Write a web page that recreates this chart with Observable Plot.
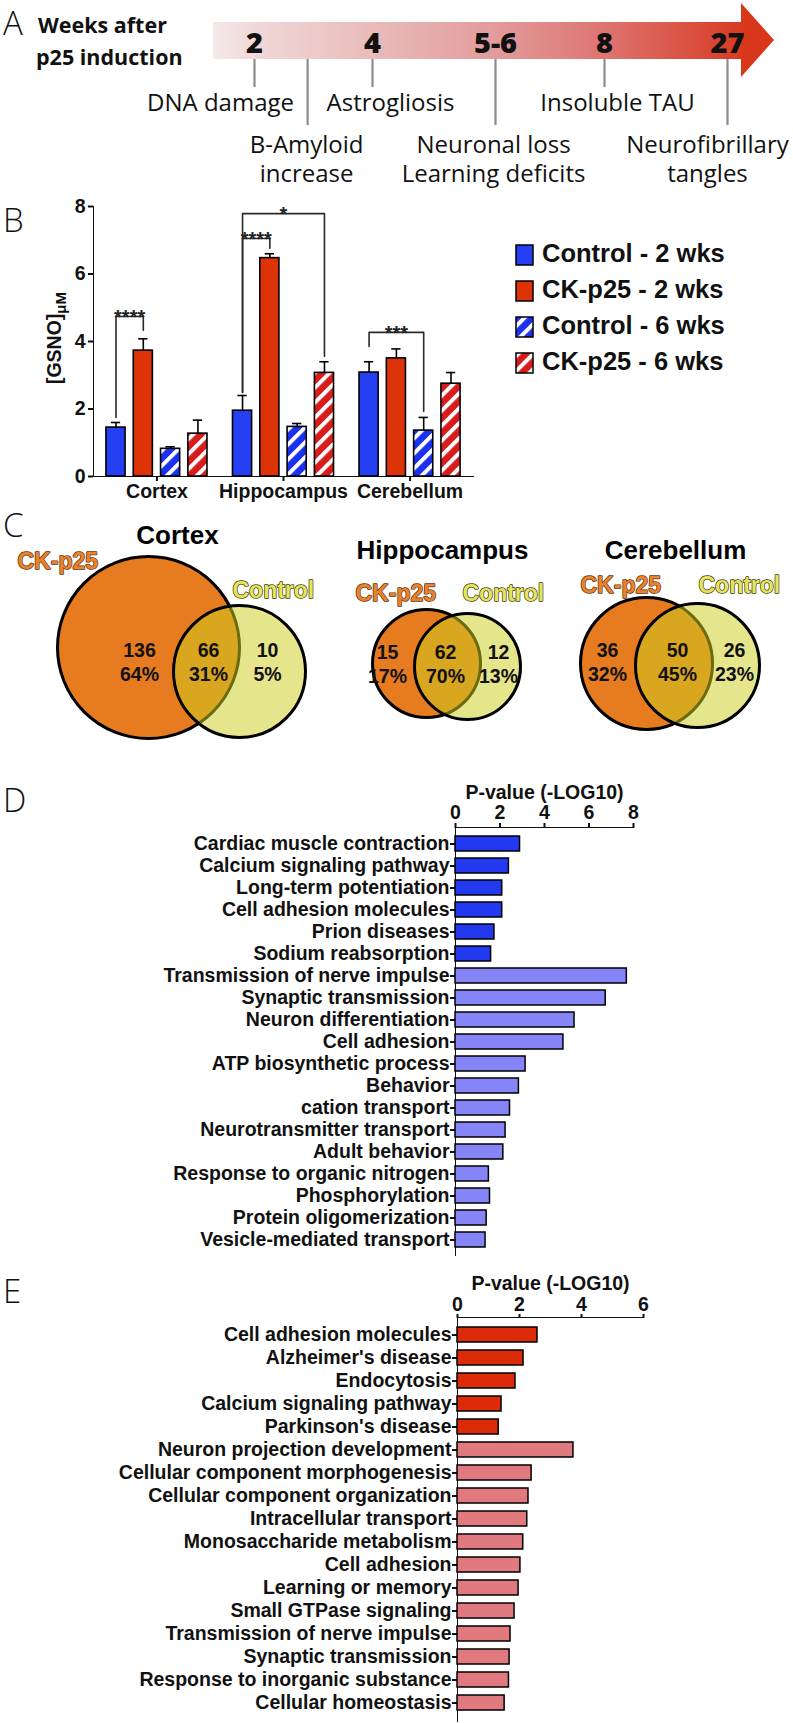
<!DOCTYPE html>
<html><head><meta charset="utf-8">
<script src="https://cdn.jsdelivr.net/npm/d3@7"></script>
<script src="https://cdn.jsdelivr.net/npm/@observablehq/plot@0.6"></script>
<style>
html,body{margin:0;padding:0;background:#fff;}
#root{position:relative;width:793px;height:1723px;overflow:hidden;background:#fff;}
.panel{position:absolute;left:0;}
#root svg{display:block;overflow:visible;background:transparent !important;max-width:none !important;}
g[aria-label^="x-axis"] path, g[aria-label^="x-axis"] line, g[aria-label^="y-axis"] path, g[aria-label^="y-axis"] line{stroke-width:2px;}
</style></head>
<body>
<svg width="0" height="0" style="position:absolute">
 <defs>
  <linearGradient id="arrowGrad" x1="0" x2="1" y1="0" y2="0">
   <stop offset="0" stop-color="#f5e9e9"/>
   <stop offset="0.08" stop-color="#f0d8d8"/>
   <stop offset="0.30" stop-color="#e9bbbb"/>
   <stop offset="0.53" stop-color="#e29c9b"/>
   <stop offset="0.74" stop-color="#dd7470"/>
   <stop offset="1" stop-color="#d83a22"/>
  </linearGradient>
  <pattern id="hatchBlue" patternUnits="userSpaceOnUse" width="10.6" height="10.6" patternTransform="rotate(45)">
   <rect width="10.6" height="10.6" fill="#1c30ef"/>
   <rect width="4" height="10.6" fill="#ffffff"/>
  </pattern>
  <pattern id="hatchRed" patternUnits="userSpaceOnUse" width="10.6" height="10.6" patternTransform="rotate(45)">
   <rect width="10.6" height="10.6" fill="#d81c1c"/>
   <rect width="4" height="10.6" fill="#ffffff"/>
  </pattern>
 </defs>
</svg>
<div id="root"></div>
<script>
// ================= DATA =================
// Panel A – timeline
const weekLabels = ["2", "4", "5-6", "8", "27"];
const weekValues = [2, 4, 5.5, 8, 27];
const eventLabels = ["DNA damage", "B-Amyloid\nincrease", "Astrogliosis", "Neuronal loss\nLearning deficits", "Insoluble TAU", "Neurofibrillary\ntangles"];
const eventWeeks = [2, 2.9, 4, 5.5, 8, 27];
const eventRows = [1, 2, 1, 2, 1, 2];

// Panel B – GSNO levels
const regions = ["Cortex", "Hippocampus", "Cerebellum"];
const groups = ["Control - 2 wks", "CK-p25 - 2 wks", "Control - 6 wks", "CK-p25 - 6 wks"];
const gsnoCortex = [1.45, 3.73, 0.82, 1.27];
const gsnoHippocampus = [1.95, 6.47, 1.47, 3.07];
const gsnoCerebellum = [3.08, 3.50, 1.36, 2.75];
const semCortex = [0.15, 0.35, 0.06, 0.40];
const semHippocampus = [0.45, 0.13, 0.10, 0.33];
const semCerebellum = [0.32, 0.28, 0.39, 0.33];
const yTicksB = [0, 2, 4, 6, 8];
const sigRegion = [0, 1, 1, 2];
const sigFrom = [0, 0, 0, 0];
const sigTo = [1, 1, 3, 2];
const sigStars = ["****", "****", "*", "***"];
const sigTop = [4.74, 7.05, 7.79, 4.27];
const sigFromEnd = [1.75, 2.49, 2.49, 3.85];
const sigToEnd = [4.33, 6.76, 3.56, 1.93];

// Panel C – Venn counts
const vennTitles = ["Cortex", "Hippocampus", "Cerebellum"];
const vennSets = ["CK-p25", "Control"];
const vennCkOnly = [136, 15, 36];
const vennShared = [66, 62, 50];
const vennCtlOnly = [10, 12, 26];
const vennCkPct = ["64%", "17%", "32%"];
const vennSharedPct = ["31%", "70%", "45%"];
const vennCtlPct = ["5%", "13%", "23%"];

// Panel D – enrichment
const termsD = ["Cardiac muscle contraction", "Calcium signaling pathway", "Long-term potentiation", "Cell adhesion molecules", "Prion diseases", "Sodium reabsorption", "Transmission of nerve impulse", "Synaptic transmission", "Neuron differentiation", "Cell adhesion", "ATP biosynthetic process", "Behavior", "cation transport", "Neurotransmitter transport", "Adult behavior", "Response to organic nitrogen", "Phosphorylation", "Protein oligomerization", "Vesicle-mediated transport"];
const pvalD = [2.9, 2.4, 2.1, 2.1, 1.75, 1.6, 7.7, 6.75, 5.35, 4.85, 3.15, 2.85, 2.45, 2.25, 2.15, 1.5, 1.55, 1.4, 1.35];
const keggCountD = 6;
const xTicksD = [0, 2, 4, 6, 8];

// Panel E
const termsE = ["Cell adhesion molecules", "Alzheimer's disease", "Endocytosis", "Calcium signaling pathway", "Parkinson's disease", "Neuron projection development", "Cellular component morphogenesis", "Cellular component organization", "Intracellular transport", "Monosaccharide metabolism", "Cell adhesion", "Learning or memory", "Small GTPase signaling", "Transmission of nerve impulse", "Synaptic transmission", "Response to inorganic substance", "Cellular homeostasis"];
const pvalE = [2.58, 2.13, 1.87, 1.42, 1.33, 3.74, 2.39, 2.29, 2.25, 2.12, 2.03, 1.97, 1.84, 1.71, 1.68, 1.66, 1.52];
const keggCountE = 5;
const xTicksE = [0, 2, 4, 6];
const pLabel = "P-value (-LOG10)";

// ================= LAYOUT / STYLE =================
const root = document.getElementById("root");
function place(node, top) {
  const d = document.createElement("div");
  d.className = "panel"; d.style.top = top + "px";
  d.appendChild(node); root.appendChild(d);
}
const arial = "'Liberation Sans', Arial, Helvetica, sans-serif";
const myriad = "'Open Sans', 'Noto Sans', sans-serif";
const baseStyle = {fontFamily: arial, fontSize: "19.5px", fontWeight: "bold", color: "#111", background: "transparent", overflow: "visible"};
const intFmt = d => String(d);

// ---------- Panel A ----------
const labelShift = [-34, -1, 18, -2, 13, -20];
function arrowMark() {
  const g = d3.create("svg:g");
  g.append("rect").attr("x", 213).attr("y", 22).attr("width", 530).attr("height", 37).attr("fill", "url(#arrowGrad)");
  g.append("path").attr("d", "M741,3 L774,40 L741,77 Z").attr("fill", "#d8371c");
  return g.node();
}
const plotA = Plot.plot({
  width: 793, height: 190, margin: 0,
  style: {fontFamily: myriad, color: "#111", background: "transparent", overflow: "visible"},
  x: {type: "linear", domain: weekValues, range: [254, 372, 495, 604, 727], axis: null},
  y: {domain: [0, 190], range: [0, 190], axis: null},
  marks: [
    arrowMark,
    Plot.ruleX(eventLabels, {x: eventWeeks, y1: 59, y2: eventRows.map(r => r === 1 ? 87 : 125), stroke: "#8c8c8c", strokeWidth: 2.2}),
    Plot.text(weekLabels, {x: weekValues, y: 52, text: d => d, lineAnchor: "bottom", fontSize: 29, fontWeight: 800, fill: "#111"}),
    ...eventLabels.map((lab, i) => Plot.text([lab], {x: [eventWeeks[i]], y: [eventRows[i] === 1 ? 89 : 131], text: d => d, lineAnchor: "top", lineHeight: 1.24, fontSize: 24, dx: labelShift[i], fill: "#111"}))
  ]
});
place(plotA, 0);

// ---------- Panel B ----------
const GROUP_STEP = 4.634, HALF = 0.35, CAP = 0.17;
const meansB = [gsnoCortex, gsnoHippocampus, gsnoCerebellum];
const semsB = [semCortex, semHippocampus, semCerebellum];
const rowsB = [];
regions.forEach((r, ri) => groups.forEach((g, gi) => rowsB.push({region: r, group: g, gi, mean: meansB[ri][gi], sem: semsB[ri][gi], pos: ri * GROUP_STEP + gi})));
const groupFill = ["#2440f2", "#dd3308", "url(#hatchBlue)", "url(#hatchRed)"];
const bracketPts = [];
sigStars.forEach((s, k) => {
  const xa = sigRegion[k] * GROUP_STEP + sigFrom[k], xb = sigRegion[k] * GROUP_STEP + sigTo[k];
  bracketPts.push({id: k, x: xa, y: sigFromEnd[k]}, {id: k, x: xa, y: sigTop[k]}, {id: k, x: xb, y: sigTop[k]}, {id: k, x: xb, y: sigToEnd[k]});
});
const plotB = Plot.plot({
  width: 793, height: 320, marginTop: 16, marginBottom: 34, marginLeft: 93, marginRight: 320,
  style: baseStyle,
  x: {domain: [-0.824, 2 * GROUP_STEP + 3 + 0.824], ticks: regions.map((r, i) => i * GROUP_STEP + 1.5), tickFormat: d => regions[Math.round((d - 1.5) / GROUP_STEP)], tickSize: 5, tickPadding: 3, label: null, line: true},
  y: {domain: [0, 8], ticks: yTicksB, tickFormat: intFmt, tickSize: 5, tickPadding: 3, label: null, line: true},
  marks: [
    ...groups.map((g, gi) => Plot.rectY(rowsB.filter(d => d.gi === gi), {x1: d => d.pos - HALF, x2: d => d.pos + HALF, y1: 0, y2: "mean", fill: groupFill[gi], stroke: "#000", strokeWidth: 1.6})),
    Plot.ruleX(rowsB, {x: "pos", y1: "mean", y2: d => d.mean + d.sem, stroke: "#000", strokeWidth: 1.6}),
    Plot.ruleY(rowsB, {y: d => d.mean + d.sem, x1: d => d.pos - CAP, x2: d => d.pos + CAP, stroke: "#000", strokeWidth: 1.6}),
    Plot.line(bracketPts, {x: "x", y: "y", z: "id", stroke: "#2a2a2a", strokeWidth: 1.6}),
    Plot.text(sigStars, {x: sigStars.map((s, k) => sigRegion[k] * GROUP_STEP + (sigFrom[k] + sigTo[k]) / 2), y: sigTop, text: d => d, fontSize: 20, dy: 1, fill: "#222"})
  ]
});
place(plotB, 190);

// ---------- Panel C ----------
const VENN = [
  {title: [177, 53], ck: [148, 157, 91], ctl: [239, 181, 66], ckLab: [17, 78], ctlLab: [232, 107], nums: [[139, 149], [208, 149], [267, 149]]},
  {title: [442, 68], ck: [426, 173, 54], ctl: [467, 176, 53], ckLab: [355, 110], ctlLab: [462, 110], nums: [[387, 151], [445, 151], [498, 151]]},
  {title: [675, 68], ck: [646, 173, 66], ctl: [697, 175, 62], ckLab: [580, 102], ctlLab: [698, 102], nums: [[607, 149], [677, 149], [734, 149]]}
];
const vennText = [];
vennTitles.forEach((t, i) => {
  vennText.push({x: VENN[i].nums[0][0], y: VENN[i].nums[0][1], t: vennCkOnly[i] + "\n" + vennCkPct[i]});
  vennText.push({x: VENN[i].nums[1][0], y: VENN[i].nums[1][1], t: vennShared[i] + "\n" + vennSharedPct[i]});
  vennText.push({x: VENN[i].nums[2][0], y: VENN[i].nums[2][1], t: vennCtlOnly[i] + "\n" + vennCtlPct[i]});
});
const plotC = Plot.plot({
  width: 793, height: 265, margin: 0,
  style: baseStyle,
  x: {domain: [0, 793], range: [0, 793], axis: null},
  y: {domain: [0, 265], range: [0, 265], axis: null},
  r: {type: "identity"},
  marks: [
    Plot.dot(VENN, {x: d => d.ck[0], y: d => d.ck[1], r: d => d.ck[2], fill: "#e67b1f", stroke: "#000", strokeWidth: 3}),
    Plot.dot(VENN, {x: d => d.ctl[0], y: d => d.ctl[1], r: d => d.ctl[2], fill: "rgb(205,205,34)", fillOpacity: 0.52, stroke: "#000", strokeWidth: 3}),
    Plot.text(vennTitles, {x: VENN.map(v => v.title[0]), y: VENN.map(v => v.title[1]), text: d => d, lineAnchor: "bottom", fontSize: 26, fill: "#000"}),
    Plot.text(vennTitles, {x: VENN.map(v => v.ckLab[0]), y: VENN.map(v => v.ckLab[1]), text: () => vennSets[0], lineAnchor: "bottom", textAnchor: "start", fontSize: 23, fill: "#e8832b", stroke: "#5c3311", strokeWidth: 1.4, paintOrder: "stroke"}),
    Plot.text(vennTitles, {x: VENN.map(v => v.ctlLab[0]), y: VENN.map(v => v.ctlLab[1]), text: () => vennSets[1], lineAnchor: "bottom", textAnchor: "start", fontSize: 23, fill: "#e6e45e", stroke: "#3b3b0b", strokeWidth: 1.4, paintOrder: "stroke"}),
    Plot.text(vennText, {x: "x", y: "y", text: "t", lineAnchor: "top", lineHeight: 1.25, fontSize: 19.5, fill: "#111"})
  ]
});
place(plotC, 490);

// ---------- Panel D ----------
const rowsD = termsD.map((t, i) => ({term: t, p: pvalD[i], fill: i < keggCountD ? "#2239f0" : "#8585f7"}));
const plotD = Plot.plot({
  width: 793, height: 500, marginTop: 67, marginBottom: 5, marginLeft: 455, marginRight: 160,
  style: baseStyle,
  x: {domain: [0, 8], axis: "top", ticks: xTicksD, tickFormat: intFmt, tickSize: 5, tickPadding: 4, label: null, line: true},
  y: {domain: termsD, paddingInner: 0.33, paddingOuter: 0.15, tickSize: 5, tickPadding: 1, label: null, line: true},
  marks: [
    Plot.barX(rowsD, {x: "p", y: "term", fill: "fill", stroke: "#000", strokeWidth: 1.5}),
    Plot.text([pLabel], {frameAnchor: "top", lineAnchor: "bottom", dy: -29, text: d => d, fontSize: 19.5, fill: "#111"})
  ]
});
place(plotD, 760);

// ---------- Panel E ----------
const rowsE = termsE.map((t, i) => ({term: t, p: pvalE[i], fill: i < keggCountE ? "#dc2b09" : "#e07a7f"}));
const plotE = Plot.plot({
  width: 793, height: 455, marginTop: 49, marginBottom: 2, marginLeft: 457, marginRight: 150,
  style: baseStyle,
  x: {domain: [0, 6], axis: "top", ticks: xTicksE, tickFormat: intFmt, tickSize: 4, tickPadding: 3, label: null, line: true},
  y: {domain: termsE, paddingInner: 0.34, paddingOuter: 0.2, tickSize: 5, tickPadding: 1, label: null, line: true},
  marks: [
    Plot.barX(rowsE, {x: "p", y: "term", fill: "fill", stroke: "#000", strokeWidth: 1.5}),
    Plot.text([pLabel], {frameAnchor: "top", lineAnchor: "bottom", dy: -28, text: d => d, fontSize: 19.5, fill: "#111"})
  ]
});
place(plotE, 1268);

// ---------- Overlay: panel letters, panel A heading, B legend and y label ----------
const ov = d3.create("svg").attr("width", 793).attr("height", 1723)
  .style("position", "absolute").style("left", "0px").style("top", "0px").style("pointer-events", "none");
const letters = [["A", 35], ["B", 232], ["C", 537], ["D", 812], ["E", 1303]];
ov.selectAll("text.letter").data(letters).join("text").attr("class", "letter")
  .attr("x", 3).attr("y", d => d[1]).text(d => d[0])
  .attr("font-family", myriad).attr("font-weight", 300).attr("font-size", 33).attr("fill", "#111");
ov.append("text").attr("x", 38).attr("y", 33).text("Weeks after")
  .attr("font-family", myriad).attr("font-weight", 700).attr("font-size", 21.5).attr("fill", "#111");
ov.append("text").attr("x", 36).attr("y", 65).text("p25 induction")
  .attr("font-family", myriad).attr("font-weight", 700).attr("font-size", 21.5).attr("fill", "#111");
const yl = ov.append("text").attr("transform", "translate(61,338) rotate(-90)").attr("text-anchor", "middle")
  .attr("font-family", arial).attr("font-weight", "bold").attr("font-size", 19.5).attr("fill", "#111");
yl.append("tspan").text("[GSNO]");
yl.append("tspan").attr("dy", 5).attr("font-size", 15).text("\u03bcM");
const leg = ov.append("g");
groups.forEach((g, i) => {
  leg.append("rect").attr("x", 516).attr("y", 245 + i * 36).attr("width", 17).attr("height", 20)
    .attr("fill", groupFill[i]).attr("stroke", "#000").attr("stroke-width", 1.5);
  leg.append("text").attr("x", 542).attr("y", 262 + i * 36).text(g)
    .attr("font-family", arial).attr("font-weight", "bold").attr("font-size", 25.5).attr("fill", "#111");
});
root.appendChild(ov.node());
</script>
</body></html>
